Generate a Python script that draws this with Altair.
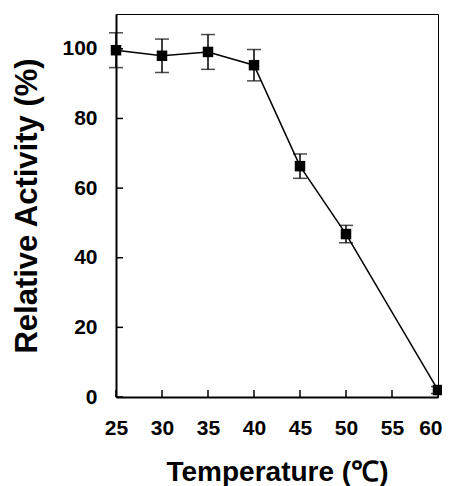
import altair as alt
import pandas as pd

temps = [25, 30, 35, 40, 45, 50, 60]
activity = [99.6, 98.0, 99.1, 95.3, 66.3, 46.8, 2.0]
errors = [5.0, 4.8, 5.0, 4.5, 3.5, 2.5, 1.0]
x_ticks = [25, 30, 35, 40, 45, 50, 55, 60]
y_ticks = [0, 20, 40, 60, 80, 100]

df = pd.DataFrame({
    "t": temps,
    "a": activity,
    "lo": [a - e for a, e in zip(activity, errors)],
    "hi": [a + e for a, e in zip(activity, errors)],
})
xt = pd.DataFrame({"t": x_ticks})
yt = pd.DataFrame({"a": y_ticks})

W, H = 322, 383
TICK = 7
FONT = "Liberation Sans"

xs = alt.Scale(domain=[25, 60], nice=False, zero=False)
ys = alt.Scale(domain=[0, 110], nice=False)

base = alt.Chart(df)

line = base.mark_line(color="black", strokeWidth=1.5).encode(
    x=alt.X("t:Q", scale=xs, title="Temperature (℃)",
            axis=alt.Axis(
                values=x_ticks, labelPadding=20, titlePadding=20, titleFontSize=28,
                labelAlign={"condition": {"test": "datum.value == 60", "value": "right"},
                            "value": "center"},
                labelOffset={"condition": {"test": "datum.value == 60", "value": 4},
                             "value": 0},
            )),
    y=alt.Y("a:Q", scale=ys, title="Relative Activity (%)",
            axis=alt.Axis(values=y_ticks, labelPadding=19, titlePadding=18,
                          titleFontSize=31)),
)

err_rule = base.mark_rule(color="black", strokeWidth=1.5).encode(
    x=alt.X("t:Q", scale=xs),
    y=alt.Y("lo:Q", scale=ys),
    y2="hi:Q",
)

err_caps = base.transform_fold(["lo", "hi"], as_=["k", "v"]).mark_tick(
    color="black", thickness=1.5, size=14, orient="horizontal"
).encode(
    x=alt.X("t:Q", scale=xs),
    y=alt.Y("v:Q", scale=ys),
)

points = base.mark_square(size=110, color="black", opacity=1).encode(
    x=alt.X("t:Q", scale=xs),
    y=alt.Y("a:Q", scale=ys),
)

xtick_marks = alt.Chart(xt).mark_rule(color="black", strokeWidth=1.5).encode(
    x=alt.X("t:Q", scale=xs),
    y=alt.value(H),
    y2=alt.value(H - TICK),
)

ytick_marks = alt.Chart(yt).mark_rule(color="black", strokeWidth=1.5).encode(
    y=alt.Y("a:Q", scale=ys),
    x=alt.value(0),
    x2=alt.value(TICK),
)

chart = alt.layer(line, xtick_marks, ytick_marks, err_rule, err_caps, points).properties(
    width=W, height=H,
    autosize=alt.AutoSizeParams(type="none"),
    padding={"left": 108, "top": 6, "right": 4, "bottom": 89},
).configure(background="white").configure_view(
    stroke="black", strokeWidth=1
).configure_axis(
    ticks=False, grid=False, domainWidth=2, domainColor="black",
    labelFontSize=21, labelFontWeight="bold", labelFont=FONT, labelColor="black",
    labelFlush=False, titleFont=FONT, titleFontWeight="bold", titleColor="black",
)

chart.save("out.html", embed_options={"renderer": "svg", "actions": False})
